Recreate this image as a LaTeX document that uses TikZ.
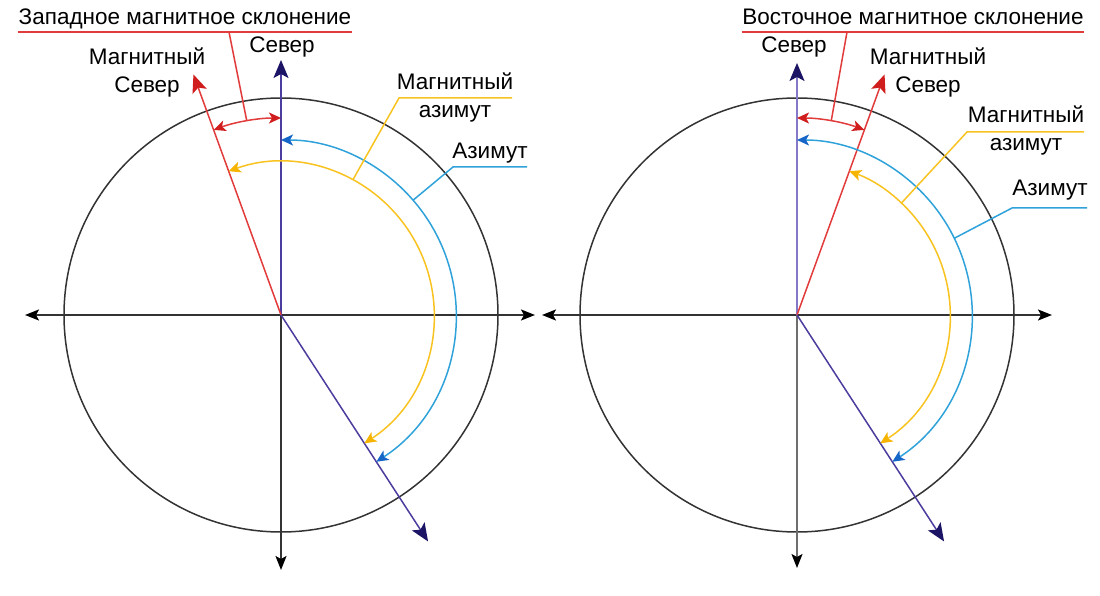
\documentclass[tikz,border=0pt]{standalone}
\usepackage{fontspec}
\setmainfont{Liberation Sans}
\usetikzlibrary{arrows.meta, calc, positioning}
\usepackage{xcolor}
\definecolor{axisgray}{HTML}{333333}
\definecolor{lightaxis}{HTML}{6E6E6E}
\definecolor{declred}{HTML}{E23B3B}
\definecolor{redtip}{HTML}{D01E1E}
\definecolor{truenavy}{HTML}{4A3D9E}
\definecolor{lightnavy}{HTML}{8478C8}
\definecolor{navytip}{HTML}{1C1464}
\definecolor{azblue}{HTML}{30A2DA}
\definecolor{aztip}{HTML}{1566C6}
\definecolor{magyellow}{HTML}{F8C321}
\definecolor{yellowtip}{HTML}{F6B400}

\begin{document}
\begin{tikzpicture}[x=1pt, y=1pt, line width=1.5pt,
    lbl/.style={font=\fontsize{22.5}{28}\selectfont, align=center, inner sep=0pt},
    ttl/.style={font=\fontsize{22.5}{26}\selectfont, inner sep=0pt},
    circ/.style={draw=axisgray},
    axisarrow/.style={draw=axisgray, -{Stealth[length=14pt, width=11pt, inset=3pt, color=black]}},
    northarrow/.style={draw=truenavy, -{Stealth[length=18pt, width=15pt, inset=4pt, color=navytip]}},
    magarrow/.style={draw=declred, -{Stealth[length=18pt, width=15pt, inset=4pt, color=redtip]}},
    declarc/.style={draw=declred, {Stealth[length=12pt, width=11pt, inset=3pt, color=redtip]}-{Stealth[length=12pt, width=11pt, inset=3pt, color=redtip]}},
    azarc/.style={draw=azblue, {Stealth[length=12pt, width=11pt, inset=3pt, color=aztip]}-{Stealth[length=12pt, width=11pt, inset=3pt, color=aztip]}},
    magazarc/.style={draw=magyellow, {Stealth[length=12pt, width=11pt, inset=3pt, color=yellowtip]}-{Stealth[length=12pt, width=11pt, inset=3pt, color=yellowtip]}}]
\useasboundingbox (0,0) rectangle (1100,595);

% ---------- Left: western declination ----------
\coordinate (L) at (281,280);
\coordinate (Lw) at (25,280);
\coordinate (Le) at (535,280);
\coordinate (Ln) at (281,535);
\coordinate (Ls) at (281,25);
\coordinate (Lmag) at ($(L)+(110:256)$);
\coordinate (Laz) at ($(L)+(-57:270)$);

% Circle and axes
\draw[circ] (L) circle (217);
\draw[axisarrow] (L) -- (Lw);
\draw[axisarrow] (L) -- (Le);
\draw[axisarrow] (L) -- (Ls);
\draw[northarrow] (L) -- (Ln);
\draw[magarrow] (L) -- (Lmag);
\draw[northarrow] (L) -- (Laz);

% Arcs
\draw[declarc] ($(L)+(90:197)$) arc[start angle=90, end angle=110, radius=197];
\draw[azarc] ($(L)+(-57:175)$) arc[start angle=-57, end angle=90, radius=175];
\draw[magazarc] ($(L)+(-57:153)$) arc[start angle=-57, end angle=110, radius=153];

% Labels
\node[ttl, anchor=base] (Ltitle) at (185,570) {Западное магнитное склонение};
\draw[declred] ([yshift=-7pt]Ltitle.base west) -- ([yshift=-7pt]Ltitle.base east);
\node[lbl] (Lnorth) at (282,548) {Север};
\node[lbl] (Lmagn) at (147,523) {Магнитный\\Север};
\node[lbl] (Lmagaz) at (455,498) {Магнитный\\азимут};
\node[lbl] (Lazim) at (490,442) {Азимут};

% Pointers
\coordinate (Ldecl) at ($(L)+(100:197)$);
\coordinate (Lptr) at (229,563);
\draw[declred] (Ldecl) -- (Lptr);
\coordinate (Lmz) at ($(L)+(62:153)$);
\coordinate (Lmzk) at (399,497);
\coordinate (Lmze) at (512,497);
\draw[magyellow] (Lmz) -- (Lmzk) -- (Lmze);
\coordinate (Lz) at ($(L)+(41:175)$);
\coordinate (Lzk) at (453,428);
\coordinate (Lze) at (527,428);
\draw[azblue] (Lz) -- (Lzk) -- (Lze);

% ---------- Right: eastern declination ----------
\coordinate (R) at (797,280);
\coordinate (Rw) at (542,280);
\coordinate (Re) at (1052,280);
\coordinate (Rn) at (797,532);
\coordinate (Rs) at (797,27);
\coordinate (Rmag) at ($(R)+(70:256)$);
\coordinate (Raz) at ($(R)+(-57:270)$);

% Circle and axes
\draw[circ] (R) circle (217);
\draw[axisarrow] (R) -- (Rw);
\draw[axisarrow] (R) -- (Re);
\draw[axisarrow, draw=lightaxis] (R) -- (Rs);
\draw[northarrow, draw=lightnavy] (R) -- (Rn);
\draw[magarrow] (R) -- (Rmag);
\draw[northarrow] (R) -- (Raz);

% Arcs
\draw[declarc] ($(R)+(90:197)$) arc[start angle=90, end angle=70, radius=197];
\draw[azarc] ($(R)+(-57:175)$) arc[start angle=-57, end angle=90, radius=175];
\draw[magazarc] ($(R)+(-57:153)$) arc[start angle=-57, end angle=70, radius=153];

% Labels
\node[ttl, anchor=base] (Rtitle) at (913,570) {Восточное магнитное склонение};
\draw[declred] ([yshift=-7pt]Rtitle.base west) -- ([yshift=-7pt]Rtitle.base east);
\node[lbl] (Rnorth) at (794,548) {Север};
\node[lbl] (Rmagn) at (928,523) {Магнитный\\Север};
\node[lbl] (Rmagaz) at (1026,465) {Магнитный\\азимут};
\node[lbl] (Razim) at (1050,405) {Азимут};

% Pointers
\coordinate (Rdecl) at ($(R)+(80:197)$);
\coordinate (Rptr) at (847,563);
\draw[declred] (Rdecl) -- (Rptr);
\coordinate (Rmz) at ($(R)+(47:153)$);
\coordinate (Rmzk) at (967,463);
\coordinate (Rmze) at (1084,463);
\draw[magyellow] (Rmz) -- (Rmzk) -- (Rmze);
\coordinate (Rz) at ($(R)+(26:175)$);
\coordinate (Rzk) at (1012,387);
\coordinate (Rze) at (1087,387);
\draw[azblue] (Rz) -- (Rzk) -- (Rze);

\end{tikzpicture}
\end{document}
